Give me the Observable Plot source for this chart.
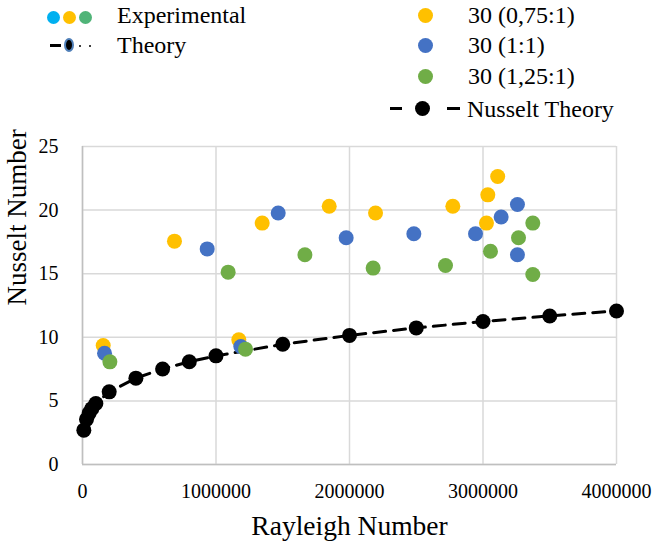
<!DOCTYPE html>
<html>
<head>
<meta charset="utf-8">
<script src="https://cdn.jsdelivr.net/npm/d3@7"></script>
<script src="https://cdn.jsdelivr.net/npm/@observablehq/plot@0.6"></script>
<style>
  html, body { margin: 0; padding: 0; background: #fff; }
  body { width: 663px; height: 551px; overflow: hidden; font-family: "Times New Roman", "Liberation Serif", "DejaVu Serif", serif; color: #000; }
  #legend { position: relative; width: 663px; height: 125px; }
  .lt { position: absolute; font-size: 24px; line-height: 24px; white-space: nowrap; font-family: "Times New Roman", "Liberation Serif", "DejaVu Serif", serif; }
  .dot { position: absolute; border-radius: 50%; }
  .bar { position: absolute; background: #000; }
  #chart svg text { font-family: "Times New Roman", "Liberation Serif", "DejaVu Serif", serif; }
</style>
</head>
<body>
<div id="legend"></div>
<div id="chart"></div>
<script>
// ---- data ----
const theoryRa = [10000, 30000, 50000, 70000, 100000, 200000, 400000, 600000, 800000, 1000000, 1500000, 2000000, 2500000, 3000000, 3500000, 4000000];
const theoryNu = [2.7, 3.55, 4.04, 4.39, 4.8, 5.71, 6.79, 7.51, 8.08, 8.54, 9.45, 10.15, 10.74, 11.24, 11.68, 12.07];

const yellowRa = [155000, 689000, 1171000, 1346000, 1848000, 2195000, 2774000, 3026000, 3036000, 3110000];
const yellowNu = [9.36, 17.56, 9.8, 18.98, 20.3, 19.77, 20.3, 18.98, 21.2, 22.64];

const blueRa = [165000, 934000, 1186000, 1466000, 1975000, 2482000, 2944000, 3136000, 3258000, 3258000];
const blueNu = [8.75, 16.95, 9.28, 19.77, 17.83, 18.14, 18.14, 19.46, 20.44, 16.49];

const greenRa = [205000, 1091000, 1221000, 1666000, 2177000, 2719000, 3056000, 3266000, 3373000, 3373000];
const greenNu = [8.07, 15.12, 9.07, 16.49, 15.44, 15.65, 16.77, 17.83, 18.98, 14.94];

const seriesNames = ["30 (0,75:1)", "30 (1:1)", "30 (1,25:1)", "Nusselt Theory"];
const xTicks = [0, 1000000, 2000000, 3000000, 4000000];
const yTicks = [0, 5, 10, 15, 20, 25];

const COL_Y = "#FFC000", COL_B = "#4472C4", COL_G = "#70AD47";
const FONT = "'Times New Roman', 'Liberation Serif', 'DejaVu Serif', serif";

const toRows = (xs, ys) => xs.map((x, i) => ({x, y: ys[i]}));
const theory = toRows(theoryRa, theoryNu);
const yellow = toRows(yellowRa, yellowNu);
const blue = toRows(blueRa, blueNu);
const green = toRows(greenRa, greenNu);

// ---- legend (HTML above the chart) ----
const leg = document.getElementById("legend");
function dot(cx, cy, r, color, extra) {
  const d = document.createElement("div");
  d.className = "dot";
  d.style.left = (cx - r) + "px"; d.style.top = (cy - r) + "px";
  d.style.width = (2 * r) + "px"; d.style.height = (2 * r) + "px";
  d.style.background = color;
  if (extra) Object.assign(d.style, extra);
  leg.appendChild(d);
}
function bar(x, y, w, h) {
  const d = document.createElement("div");
  d.className = "bar";
  d.style.left = x + "px"; d.style.top = y + "px";
  d.style.width = w + "px"; d.style.height = h + "px";
  leg.appendChild(d);
}
function label(x, baseline, txt) {
  const d = document.createElement("div");
  d.className = "lt";
  d.style.left = x + "px"; d.style.top = (baseline - 20) + "px";
  d.textContent = txt;
  leg.appendChild(d);
}
// left legend
dot(53, 17, 6.5, "#00B0F0");
dot(69, 17, 6.5, COL_Y);
dot(85, 17, 6.5, "#50B478");
label(117, 23, "Experimental");
bar(50, 44, 11, 3);
dot(70, 45, 6, "#000", {width: "10px", height: "14px", left: "64px", top: "38px", border: "2px solid #4F7FB8", boxSizing: "border-box"});
dot(80, 46, 1, "#000");
dot(90, 46, 1, "#000");
label(117, 53, "Theory");
// right legend
dot(425, 15, 7.5, COL_Y); label(468, 23, seriesNames[0]);
dot(425, 45, 7.5, COL_B); label(468, 53, seriesNames[1]);
dot(425, 76, 7.5, COL_G); label(468, 84, seriesNames[2]);
bar(390, 107, 12, 3);
dot(422, 108, 7.5, "#000");
bar(447, 107, 13, 3);
label(467, 117, seriesNames[3]);

// ---- chart ----
const chart = Plot.plot({
  width: 663,
  height: 426,
  marginTop: 21,
  marginBottom: 87,
  marginLeft: 82,
  marginRight: 47,
  style: {fontFamily: FONT, fontSize: "20px", color: "#000", background: "#fff"},
  x: {domain: [0, 4000000], ticks: xTicks, tickFormat: d3.format("d")},
  y: {domain: [0, 25], ticks: yTicks},
  marks: [
    Plot.gridX(xTicks, {stroke: "#d9d9d9", strokeOpacity: 1, strokeWidth: 1.5}),
    Plot.gridY(yTicks, {stroke: "#d9d9d9", strokeOpacity: 1, strokeWidth: 1.5}),
    Plot.ruleX([0], {stroke: "#bfbfbf", strokeWidth: 1.5}),
    Plot.ruleY([0], {stroke: "#bfbfbf", strokeWidth: 1.5}),
    Plot.axisX({ticks: xTicks, tickFormat: d3.format("d"), tickSize: 0, tickPadding: 19, label: null, fontSize: 20}),
    Plot.axisY({ticks: yTicks, tickSize: 0, tickPadding: 24, label: null, fontSize: 20}),
    Plot.line(theory, {x: "x", y: "y", stroke: "#000", strokeWidth: 3, strokeDasharray: "12,8"}),
    Plot.dot(theory, {x: "x", y: "y", r: 7.5, fill: "#000"}),
    Plot.dot(yellow, {x: "x", y: "y", r: 7.5, fill: COL_Y}),
    Plot.dot(blue, {x: "x", y: "y", r: 7.5, fill: COL_B}),
    Plot.dot(green, {x: "x", y: "y", r: 7.5, fill: COL_G}),
    Plot.text(["Rayleigh Number"], {frameAnchor: "bottom", dy: 70, fontSize: 27.5, fill: "#000"}),
    Plot.text(["Nusselt Number"], {frameAnchor: "left", dx: -65, rotate: -90, fontSize: 27, fill: "#000"})
  ]
});
document.getElementById("chart").appendChild(chart);
</script>
</body>
</html>
